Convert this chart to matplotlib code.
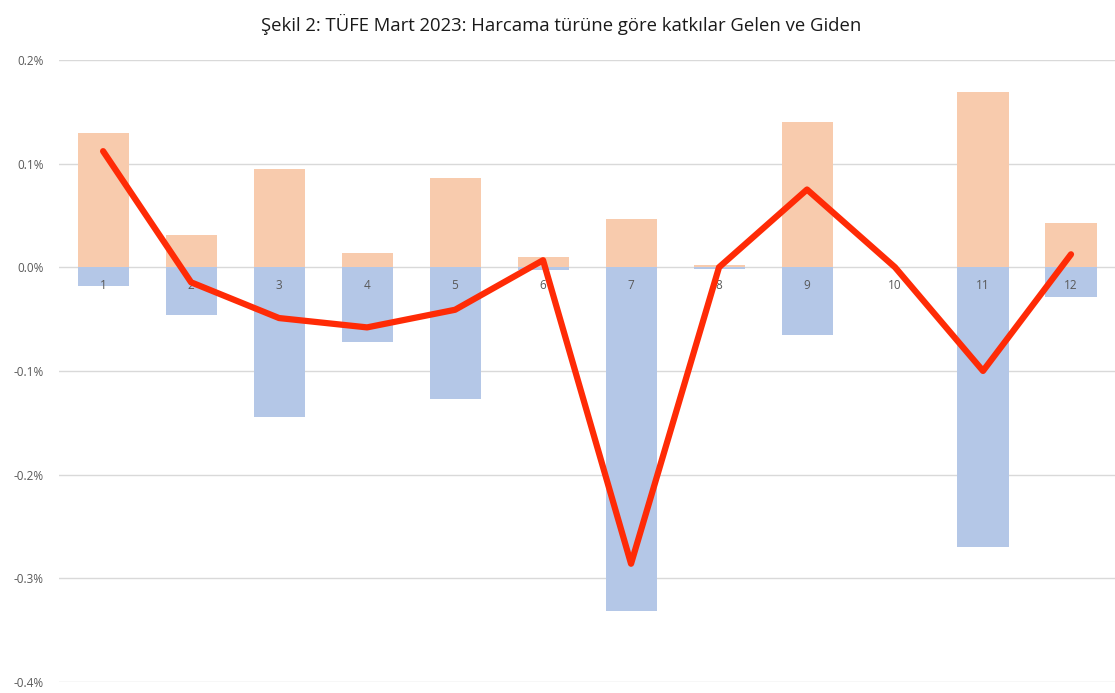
import matplotlib
matplotlib.use("Agg")
import matplotlib.pyplot as plt
import matplotlib.transforms as mtransforms
from matplotlib.ticker import FuncFormatter, MultipleLocator

# harcama grubu 1..12, katkılar (yüzde puan)
categories = ['1', '2', '3', '4', '5', '6', '7', '8', '9', '10', '11', '12']
gelen = [0.130, 0.031, 0.095, 0.0135, 0.086, 0.0097, 0.047, 0.002, 0.140, 0.0, 0.169, 0.0425]
giden = [-0.018, -0.046, -0.144, -0.072, -0.127, -0.003, -0.332, -0.002, -0.065, 0.0, -0.270, -0.029]
net = [0.112, -0.0145, -0.049, -0.058, -0.041, 0.0068, -0.286, 0.0, 0.075, 0.0, -0.100, 0.0125]

plt.rcParams['font.family'] = ['Open Sans', 'DejaVu Sans']

fig = plt.figure(figsize=(11.15, 6.93), dpi=100)
ax = fig.add_axes([0.053, 0.016, 0.947, 0.8975])

x = list(range(len(categories)))
ax.bar(x, gelen, width=0.58, color='#F8CBAD', zorder=2)
ax.bar(x, giden, width=0.58, color='#B4C7E7', zorder=2)
ax.plot(x, net, color='#FF2B06', linewidth=4.5, solid_joinstyle='round',
        solid_capstyle='round', zorder=4)

# kategori etiketleri sıfır çizgisinin hemen altında
offset = mtransforms.offset_copy(ax.transData, fig=fig, x=0, y=-18, units='dots')
for xi, lab in zip(x, categories):
    ax.text(xi, 0, lab, ha='center', va='center', fontsize=8.5, color='#595959',
            transform=offset, zorder=3)

ax.set_xlim(-0.5, len(categories) - 0.5)
ax.set_ylim(-0.4, 0.2)
ax.yaxis.set_major_locator(MultipleLocator(0.1))
ax.yaxis.set_major_formatter(FuncFormatter(lambda v, p: '%.1f%%' % v))
ax.grid(axis='y', color='#D9D9D9', linewidth=1, zorder=0)
ax.set_axisbelow(True)
ax.set_xticks([])
ax.tick_params(axis='y', length=0, labelsize=8.5, labelcolor='#595959', pad=11)
for s in ax.spines.values():
    s.set_visible(False)

fig.text(0.503, 0.965, 'Şekil 2: TÜFE Mart 2023: Harcama türüne göre katkılar Gelen ve Giden',
         ha='center', va='center', fontsize=13.3, color='#1a1a1a')

fig.savefig('out.png', dpi=100)
